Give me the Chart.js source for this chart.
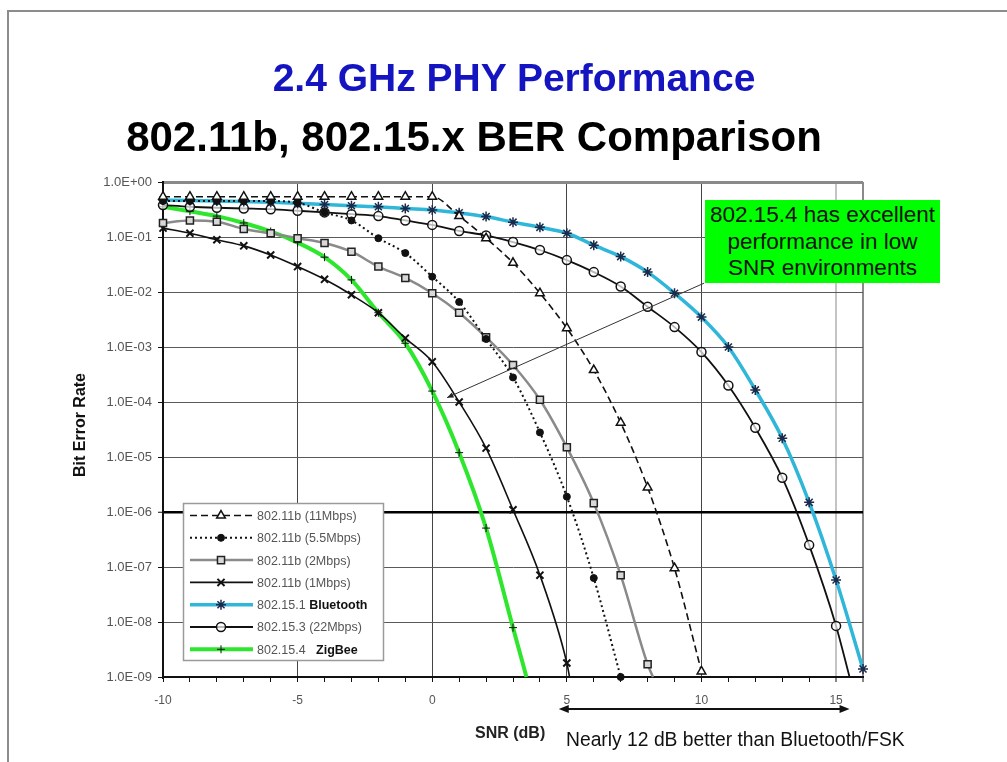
<!DOCTYPE html>
<html><head><meta charset="utf-8">
<script src="https://cdn.jsdelivr.net/npm/chart.js@4.4.1/dist/chart.umd.min.js"></script>
<style>
html,body{margin:0;padding:0;background:#fff;}
#wrap{position:relative;width:1007px;height:762px;overflow:hidden;font-family:"Liberation Sans",Arial,sans-serif;}
#c{position:absolute;left:0;top:0;}
.abs{position:absolute;white-space:nowrap;}
</style></head><body>
<div id="wrap">
<canvas id="c" width="1007" height="762"></canvas>
<div class="abs" style="left:7px;top:10px;width:1010px;height:760px;border-top:2px solid #8c8c8c;border-left:2px solid #8c8c8c;"></div>
<div class="abs" style="left:14px;top:56.5px;width:1000px;text-align:center;font-size:39px;line-height:42px;font-weight:bold;color:#1414c0;">2.4 GHz PHY Performance</div>
<div class="abs" style="left:-26px;top:116px;width:1000px;text-align:center;font-size:42px;line-height:42px;font-weight:bold;color:#000;">802.11b, 802.15.x BER Comparison</div>
<div class="abs" style="left:-20px;top:417px;width:200px;height:16px;line-height:16px;text-align:center;font-size:16px;font-weight:bold;color:#111;transform:rotate(-90deg);transform-origin:100px 8px;">Bit Error Rate</div>
<div class="abs" style="left:475px;top:725px;font-size:16px;line-height:16px;font-weight:bold;color:#222;">SNR (dB)</div>
<div class="abs" style="left:566px;top:730px;font-size:19.3px;line-height:19.3px;color:#111;">Nearly 12 dB better than Bluetooth/FSK</div>
<div class="abs" style="left:705px;top:200px;width:235px;height:83px;background:#00ff00;text-align:center;font-size:22.5px;line-height:26.5px;color:#111;padding-top:2px;box-sizing:border-box;">802.15.4 has excellent<br>performance in low<br>SNR environments</div>
</div>
<script>
// ---- data (SNR in dB, bit error rate) ----
const snr11 = [-10,-9,-8,-7,-6,-5,-4,-3,-2,-1,0,1,2,3,4,5,6,7,8,9,10];
const ber11 = [0.54,0.54,0.54,0.54,0.54,0.54,0.54,0.54,0.54,0.54,0.54,0.24,0.095,0.034,0.0095,0.0022,3.8e-4,4.2e-5,2.8e-6,9.5e-8,1.26e-9];

const snr55 = [-10,-9,-8,-7,-6,-5,-4,-3,-2,-1,0,1,2,3,4,5,6,7];
const ber55 = [0.45,0.45,0.45,0.45,0.45,0.42,0.28,0.2,0.095,0.051,0.019,0.0066,0.0014,2.8e-4,2.8e-5,1.9e-6,6.3e-8,1.0e-9];

const snr2 = [-10,-9,-8,-7,-6,-5,-4,-3,-2,-1,0,1,2,3,4,5,6,7,8,8.2];
const ber2 = [0.18,0.2,0.19,0.14,0.117,0.095,0.078,0.054,0.029,0.018,0.0095,0.0042,0.0015,4.7e-4,1.1e-4,1.5e-5,1.45e-6,7.1e-8,1.7e-9,1e-9];

const snr1 = [-10,-9,-8,-7,-6,-5,-4,-3,-2,-1,0,1,2,3,4,5,5.1];
const ber1 = [0.145,0.117,0.089,0.069,0.047,0.029,0.017,0.0089,0.0042,0.00145,5.4e-4,1.0e-4,1.45e-5,1.1e-6,7.1e-8,1.8e-9,1e-9];

const snrBT = [-10,-9,-8,-7,-6,-5,-4,-3,-2,-1,0,1,2,3,4,5,6,7,8,9,10,11,12,13,14,15,16];
const berBT = [0.47,0.46,0.45,0.44,0.43,0.41,0.39,0.37,0.355,0.33,0.31,0.275,0.235,0.186,0.15,0.117,0.071,0.044,0.023,0.0095,0.0035,0.001,1.66e-4,2.2e-5,1.5e-6,5.8e-8,1.4e-9];

const snr153 = [-10,-9,-8,-7,-6,-5,-4,-3,-2,-1,0,1,2,3,4,5,6,7,8,9,10,11,12,13,14,15,15.5];
const ber153 = [0.38,0.355,0.34,0.33,0.32,0.30,0.28,0.26,0.24,0.2,0.166,0.129,0.107,0.081,0.058,0.038,0.023,0.0126,0.0054,0.0023,8.1e-4,2.0e-4,3.4e-5,4.2e-6,2.5e-7,8.5e-9,1e-9];

const snrZB = [-10,-9,-8,-7,-6,-5,-4,-3,-2,-1,0,1,2,3,3.5];
const berZB = [0.355,0.295,0.24,0.18,0.126,0.079,0.043,0.0166,0.0042,0.00117,1.58e-4,1.2e-5,5.1e-7,7.9e-9,1e-9];

const seriesLabels = ['802.11b (11Mbps)','802.11b (5.5Mbps)','802.11b (2Mbps)','802.11b (1Mbps)','802.15.1 Bluetooth','802.15.3 (22Mbps)','802.15.4   ZigBee'];
const legendBold = ['','','','','Bluetooth','','ZigBee'];
// last point of these series only marks where the curve meets the axis (no marker)
const lastUnmarked = [false,false,true,true,false,true,true];

const xTickValues = [-10,-9,-8,-7,-6,-5,-4,-3,-2,-1,0,1,2,3,4,5,6,7,8,9,10,11,12,13,14,15,16];
const berTicks = [1,1e-1,1e-2,1e-3,1e-4,1e-5,1e-6,1e-7,1e-8,1e-9];

const arrowSpan = [4.7, 15.5];          // "nearly 12 dB" double arrow (SNR dB)
const connectorFrom = [0.55, 1.2e-4];   // arrow tip of the note connector
const connectorTo = [10.1, 0.0145];

function pts(xs, ys){ return xs.map((x,i)=>({x:x, y:ys[i]})); }

const styles = [
  {c:'#111', w:1.6, dash:[7,4], ps:'triangle', r:5, bg:'#fff', bc:'#111', bw:1.5},
  {c:'#111', w:2, dash:[2,3], ps:'circle', r:3.5, bg:'#111', bc:'#111', bw:1},
  {c:'#8a8a8a', w:2.5, dash:[], ps:'rect', r:5, bg:'#d8d8d8', bc:'#222', bw:1.5},
  {c:'#111', w:1.6, dash:[], ps:'crossRot', r:5, bg:'#111', bc:'#111', bw:2},
  {c:'#2fb6d9', w:3.5, dash:[], ps:'star', r:5, bg:'#1a2a4a', bc:'#1a2a4a', bw:1.5},
  {c:'#111', w:1.8, dash:[], ps:'circle', r:4.5, bg:'rgba(255,255,255,0.7)', bc:'#111', bw:1.5},
  {c:'#2ee62e', w:4, dash:[], ps:'cross', r:4, bg:'#111', bc:'#111', bw:1}
];
const allData = [pts(snr11,ber11),pts(snr55,ber55),pts(snr2,ber2),pts(snr1,ber1),pts(snrBT,berBT),pts(snr153,ber153),pts(snrZB,berZB)];

const datasets = allData.map((d,i)=>{
  const s = styles[i];
  return {
    label: seriesLabels[i], data: d,
    borderColor: s.c, borderWidth: s.w, borderDash: s.dash,
    pointStyle: s.ps, backgroundColor: s.bg, pointBorderColor: s.bc, pointBorderWidth: s.bw,
    pointRadius: (ctx)=> (lastUnmarked[i] && ctx.dataIndex === d.length-1) ? 0 : s.r,
    cubicInterpolationMode: 'monotone', fill: false, clip: false,
    _legendR: s.r
  };
});

const legendPlugin = {
  id:'berLegend',
  afterDatasetsDraw(chart){
    const ctx = chart.ctx;
    const bx=183, by=503, bw=200, bh=157;
    ctx.save();
    ctx.fillStyle='#fff'; ctx.fillRect(bx,by,bw,bh);
    ctx.strokeStyle='#9a9a9a'; ctx.lineWidth=1.5; ctx.strokeRect(bx+0.5,by+0.5,bw,bh);
    chart.data.datasets.forEach((ds,i)=>{
      const y = by + 12.5 + i*22.3;
      ctx.save();
      ctx.strokeStyle = ds.borderColor; ctx.lineWidth = ds.borderWidth;
      ctx.setLineDash(ds.borderDash || []);
      ctx.beginPath(); ctx.moveTo(190,y); ctx.lineTo(253,y); ctx.stroke();
      ctx.setLineDash([]);
      ctx.fillStyle = ds.backgroundColor; ctx.strokeStyle = ds.pointBorderColor; ctx.lineWidth = ds.pointBorderWidth;
      Chart.helpers.drawPoint(ctx, {pointStyle: ds.pointStyle, radius: ds._legendR, borderWidth: ds.pointBorderWidth, rotation: 0}, 221, y);
      ctx.restore();
      const bold = legendBold[i];
      const plain = bold ? ds.label.slice(0, ds.label.length - bold.length) : ds.label;
      ctx.textBaseline='middle'; ctx.textAlign='left';
      ctx.font = '12.5px "Liberation Sans", Arial, sans-serif'; ctx.fillStyle='#555';
      ctx.fillText(plain, 257, y+1);
      if (bold){
        const w = ctx.measureText(plain).width;
        ctx.font = 'bold 12.5px "Liberation Sans", Arial, sans-serif'; ctx.fillStyle='#111';
        ctx.fillText(bold, 257 + w, y+1);
      }
    });
    ctx.restore();
  }
};

const annotPlugin = {
  id:'annot',
  afterDraw(chart){
    const ctx = chart.ctx, xs = chart.scales.x, ys = chart.scales.y;
    ctx.save();
    const x0 = xs.getPixelForValue(connectorFrom[0]), y0 = ys.getPixelForValue(connectorFrom[1]);
    const x1 = xs.getPixelForValue(connectorTo[0]), y1 = ys.getPixelForValue(connectorTo[1]);
    ctx.strokeStyle='#333'; ctx.lineWidth=1;
    ctx.beginPath(); ctx.moveTo(x1,y1); ctx.lineTo(x0,y0); ctx.stroke();
    const a = Math.atan2(y0-y1, x0-x1);
    ctx.fillStyle='#222';
    ctx.beginPath(); ctx.moveTo(x0,y0);
    ctx.lineTo(x0-7*Math.cos(a-0.4), y0-7*Math.sin(a-0.4));
    ctx.lineTo(x0-7*Math.cos(a+0.4), y0-7*Math.sin(a+0.4));
    ctx.closePath(); ctx.fill();
    const ax1 = xs.getPixelForValue(arrowSpan[0]), ax2 = xs.getPixelForValue(arrowSpan[1]);
    const ay = chart.chartArea.bottom + 32;
    ctx.strokeStyle='#111'; ctx.lineWidth=2;
    ctx.beginPath(); ctx.moveTo(ax1+6,ay); ctx.lineTo(ax2-6,ay); ctx.stroke();
    ctx.fillStyle='#111';
    ctx.beginPath(); ctx.moveTo(ax1,ay); ctx.lineTo(ax1+10,ay-4); ctx.lineTo(ax1+10,ay+4); ctx.closePath(); ctx.fill();
    ctx.beginPath(); ctx.moveTo(ax2,ay); ctx.lineTo(ax2-10,ay-4); ctx.lineTo(ax2-10,ay+4); ctx.closePath(); ctx.fill();
    ctx.restore();
  }
};

function decade(v){ return Math.round(Math.log10(v)); }

new Chart(document.getElementById('c'), {
  type:'line',
  data:{datasets: datasets},
  plugins:[legendPlugin, annotPlugin],
  options:{
    responsive:false, animation:false, devicePixelRatio:1, events:[],
    layout:{padding:{left:0, top:182, right:144, bottom:45}},
    plugins:{legend:{display:false}, tooltip:{enabled:false}, title:{display:false}},
    scales:{
      x:{
        type:'linear', min:-10, max:16,
        afterBuildTicks:(s)=>{ s.ticks = xTickValues.map(v=>({value:v})); },
        afterFit:(s)=>{ s.height = 40; },
        ticks:{autoSkip:false, maxRotation:0, padding:11, color:'#555',
          font:{family:'"Liberation Sans", Arial, sans-serif', size:12},
          callback:(v)=> (v % 5 === 0 && v <= 15) ? String(v) : ''},
        grid:{
          tickLength:5, tickColor:'#111', tickWidth:1,
          color:(c)=>{ const v=c.tick.value; if (v===-10) return 'rgba(0,0,0,0)'; if (v===16) return '#8a8a8a'; if (v===15) return '#c4c4c4'; if (v%5===0) return '#444'; return 'rgba(0,0,0,0)'; },
          lineWidth:(c)=>{ const v=c.tick.value; return (v===15||v===16) ? 2 : 1; }
        },
        border:{color:'#111', width:2}
      },
      y:{
        type:'logarithmic', min:1e-9, max:1,
        afterBuildTicks:(s)=>{ s.ticks = berTicks.map(v=>({value:v})); },
        afterFit:(s)=>{ s.width = 163; },
        ticks:{autoSkip:false, padding:6, color:'#555',
          font:{family:'"Liberation Sans", Arial, sans-serif', size:13},
          callback:(v)=>{ const e = decade(v); return e===0 ? '1.0E+00' : '1.0E-' + String(-e).padStart(2,'0'); }},
        grid:{
          tickLength:5, tickColor:'#111', tickWidth:1,
          color:(c)=>{ const e=decade(c.tick.value); if (e===-9) return 'rgba(0,0,0,0)'; if (e===0) return '#8a8a8a'; if (e===-6) return '#000'; return '#5a5a5a'; },
          lineWidth:(c)=>{ const e=decade(c.tick.value); return e===0 ? 3 : (e===-6 ? 2.5 : 1); }
        },
        border:{color:'#111', width:2}
      }
    }
  }
});
</script>
</body></html>
